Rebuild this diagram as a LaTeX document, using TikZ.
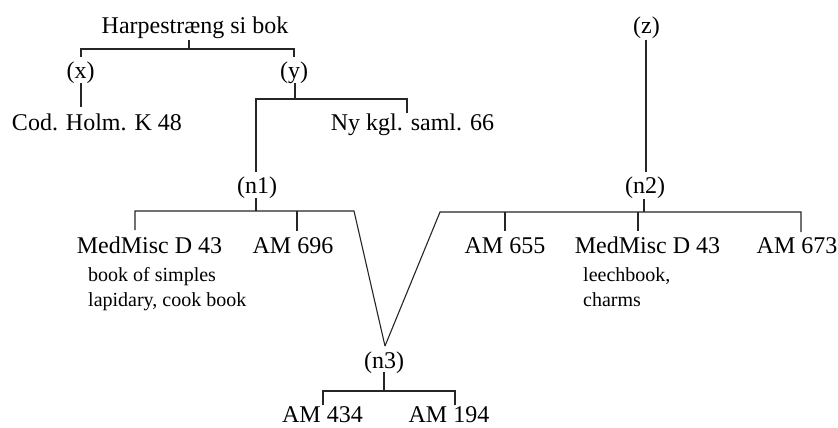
\documentclass[tikz,border=0pt]{standalone}
\usepackage{fontspec}
\setmainfont{Liberation Serif}
\begin{document}
\begin{tikzpicture}[x=1pt,y=-1pt,
  lab/.style={font=\fontsize{24}{28}\selectfont, inner sep=0pt, anchor=base, text=black},
  note/.style={font=\fontsize{20}{24}\selectfont, inner sep=0pt, anchor=base west, text=black},
  con/.style={draw=black!85, line width=1.1pt}]
\useasboundingbox[fill=white] (0,0) rectangle (838,428);
% text nodes
\node[lab] (title) at (195,34) {Harpestræng si bok};
\node[lab] (x) at (80.5,78) {(x)};
\node[lab] (y) at (294,78) {(y)};
\node[lab] (cod) at (97,130) {Cod. Holm. K 48};
\node[lab] (ny) at (412.5,130) {Ny kgl. saml. 66};
\node[lab] (n1) at (257,193) {(n1)};
\node[lab] (z) at (646.5,34) {(z)};
\node[lab] (n2) at (645,193) {(n2)};
\node[lab] (med1) at (149.5,253) {MedMisc D 43};
\node[note] (med1a) at (88,281) {book of simples};
\node[note] (med1b) at (88,306) {lapidary, cook book};
\node[lab] (am696) at (293,253) {AM 696};
\node[lab] (am655) at (505,253) {AM 655};
\node[lab] (med2) at (647.5,253) {MedMisc D 43};
\node[note] (med2a) at (583,281) {leechbook,};
\node[note] (med2b) at (583,306) {charms};
\node[lab] (am673) at (797,253) {AM 673};
\node[lab] (n3) at (384,368) {(n3)};
\node[lab] (am434) at (322.5,422.5) {AM 434};
\node[lab] (am194) at (449,422.5) {AM 194};
% junction coordinates
\coordinate (t0) at (189,40);
\coordinate (t1) at (189,49);
\coordinate (hxl) at (81,49);
\coordinate (hyr) at (294,49);
\coordinate (xt) at (81,57);
\coordinate (yt) at (294,57);
\coordinate (x0) at (81,83);
\coordinate (x1) at (81,107);
\coordinate (y0) at (295,83);
\coordinate (y1) at (295,99);
\coordinate (yl) at (256,99);
\coordinate (yr) at (407,99);
\coordinate (ny0) at (407,113);
\coordinate (n1t) at (256,172);
\coordinate (n10) at (256,198);
\coordinate (n11) at (256,211);
\coordinate (n1l) at (135,211);
\coordinate (n1r) at (354,211);
\coordinate (m1t) at (135,230);
\coordinate (a696j) at (297,211);
\coordinate (a696t) at (297,231);
\coordinate (n3t) at (385,346);
\coordinate (z0) at (646,40);
\coordinate (n2t) at (646,172);
\coordinate (n20) at (644,199);
\coordinate (n21) at (644,212);
\coordinate (n2l) at (440,212);
\coordinate (n2r) at (801,212);
\coordinate (a655j) at (505,212);
\coordinate (a655t) at (505,231);
\coordinate (m2j) at (638,212);
\coordinate (m2t) at (638,231);
\coordinate (a673t) at (801,232);
\coordinate (n30) at (384,372);
\coordinate (n31) at (384,391);
\coordinate (n3l) at (323,391);
\coordinate (n3r) at (455,391);
\coordinate (a434t) at (323,405);
\coordinate (a194t) at (455,405);
% connectors
\draw[con] (t0) -- (t1);
\draw[con] (xt) -- (hxl) -- (hyr) -- (yt);
\draw[con] (x0) -- (x1);
\draw[con] (y0) -- (y1);
\draw[con] (n1t) -- (yl) -- (yr) -- (ny0);
\draw[con] (n10) -- (n11);
\draw[con] (m1t) -- (n1l) -- (n1r) -- (n3t);
\draw[con] (a696j) -- (a696t);
\draw[con] (z0) -- (n2t);
\draw[con] (n20) -- (n21);
\draw[con] (n3t) -- (n2l) -- (n2r) -- (a673t);
\draw[con] (a655j) -- (a655t);
\draw[con] (m2j) -- (m2t);
\draw[con] (n30) -- (n31);
\draw[con] (a434t) -- (n3l) -- (n3r) -- (a194t);
\end{tikzpicture}
\end{document}
